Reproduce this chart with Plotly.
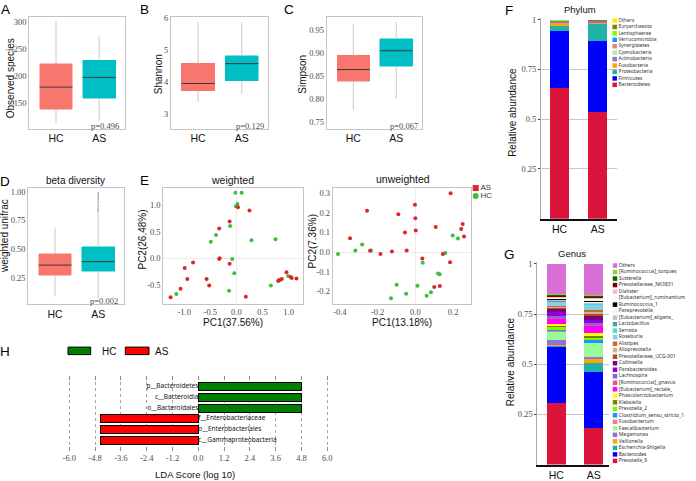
import plotly.graph_objects as go

W, H = 696, 481
SANS = "Liberation Sans"
SERIF = "Liberation Serif"
SMALL = "Noto Sans"
TICK_GRAY = "#4D4D4D"
FRAME = "#C4C4C4"

# ---------------- data ----------------
groups = ["HC", "AS"]
box_colors = ["#F8766D", "#00BFC4"]

# A observed species
obs_lo = [113, 117]
obs_q1 = [138, 158]
obs_med = [179, 197]
obs_q3 = [222, 229]
obs_hi = [302, 272]
# B Shannon
sha_lo = [3.38, 3.63]
sha_q1 = [3.72, 4.03]
sha_med = [3.95, 4.57]
sha_q3 = [4.58, 4.81]
sha_hi = [5.87, 5.87]
# C Simpson
sim_lo = [0.776, 0.800]
sim_q1 = [0.839, 0.871]
sim_med = [0.864, 0.905]
sim_q3 = [0.895, 0.931]
sim_hi = [0.964, 0.968]
# D beta diversity (weighted unifrac)
bd_lo = [0.087, 0.07]
bd_q1 = [0.27, 0.305]
bd_med = [0.36, 0.39]
bd_q3 = [0.457, 0.52]
bd_hi = [0.68, 0.81]
bd_as_outliers = [0.99, 0.975, 0.96, 0.945, 0.93, 0.915, 0.90, 0.885, 0.87, 0.855, 0.84, 0.825]
p_values = ["p=0.496", "p=0.129", "p=0.067", "p=0.002"]

# E weighted PCoA
wt_hc_x = [-0.02, 0.10, 0.02, -0.01, -0.12, -0.39, -0.49, 0.29, 0.75, -0.08, -0.04, -0.14, 0.66, 0.99, -1.15, 0.80]
wt_hc_y = [1.23, 1.23, 1.02, 0.98, 0.61, 0.44, 0.31, 0.34, 0.36, -0.01, -0.28, -0.61, -0.51, -0.33, -0.67, -0.43]
wt_as_x = [0.03, 0.25, -0.13, -0.33, -0.33, -0.32, -0.13, -0.83, -0.99, -0.94, -0.57, -0.52, -1.07, -1.26, 0.18,
           0.96, 0.81, 0.84, 0.87, 1.04, 1.06, 1.15]
wt_as_y = [0.96, 0.90, 0.69, 0.56, -0.01, 0.0, -0.10, -0.08, -0.18, -0.39, -0.39, -0.51, -0.57, -0.73, -0.72,
           -0.26, -0.41, -0.40, -0.39, -0.35, -0.37, -0.38]
# E unweighted PCoA
uw_as_x = [0.187, -0.002, -0.256, -0.09, 0.0, 0.108, 0.251, 0.243, 0.258, -0.055, 0.002, -0.346, -0.240,
           -0.124, -0.046, -0.185, 0.037, 0.146, 0.184, 0.10, 0.13]
uw_as_y = [0.298, 0.239, 0.209, 0.192, 0.171, 0.127, 0.142, 0.117, 0.079, 0.099, 0.109, 0.070, 0.007,
           0.003, 0.008, -0.010, -0.033, -0.010, -0.052, -0.177, -0.172]
uw_hc_x = [-0.41, -0.318, -0.282, -0.235, 0.159, 0.198, 0.226, 0.039, 0.12, 0.129, -0.099, 0.011, -0.049,
           -0.129, 0.060, 0.083]
uw_hc_y = [-0.01, 0.008, 0.038, 0.008, -0.005, 0.084, 0.069, -0.054, -0.109, -0.112, -0.166, -0.171, -0.211,
           -0.234, -0.221, -0.204]
pc_red, pc_green = "#E0242C", "#3CC03C"

# F phylum (stack order bottom -> top)
phylum_names = ["Bacteroidetes", "Firmicutes", "Proteobacteria", "Fusobacteria", "Actinobacteria",
                "Cyanobacteria", "Synergistetes", "Verrucomicrobia", "Lentisphaerae", "Euryarchaeota", "Others"]
phylum_hc = [0.655, 0.290, 0.025, 0.015, 0.007, 0.001, 0.001, 0.001, 0.0005, 0.0005, 0.004]
phylum_as = [0.537, 0.354, 0.088, 0.006, 0.007, 0.001, 0.0005, 0.001, 0.0005, 0.0005, 0.0045]
phylum_colors = ["#DC143C", "#0000FF", "#20B2AA", "#FFA500", "#9370DB", "#98FB98", "#F08080", "#1E90FF",
                 "#7CFC00", "#808000", "#FFEE00"]

# G genus (stack order bottom -> top)
genus_names = ["Prevotella_9", "Bacteroides", "Escherichia-Shigella", "Veillonella", "Megamonas",
               "Faecalibacterium", "Fusobacterium", "Clostridium_sensu_stricto_1", "Prevotella_2", "Klebsiella",
               "Phascolarctobacterium", "[Eubacterium]_rectale_", "[Ruminococcus]_gnavus", "Lachnospira",
               "Parabacteroides", "Collinsella", "Prevotellaceae_UCG-001", "Alloprevotella", "Alistipes",
               "Roseburia", "Serratia", "Lactobacillus", "[Eubacterium]_eligens_", "Paraprevotella",
               "Ruminococcus_1", "[Eubacterium]_ruminantium", "Dialister", "Prevotellaceae_NK3831", "Sutterella",
               "[Ruminococcus]_torques", "Others"]
genus_hc = [0.306, 0.281, 0.004, 0.005, 0.025, 0.040, 0.007, 0.005, 0.014, 0.004, 0.012, 0.022, 0.006, 0.012,
            0.020, 0.012, 0.005, 0.004, 0.008, 0.016, 0.003, 0.003, 0.004, 0.003, 0.005, 0.006, 0.004, 0.005,
            0.006, 0.004, 0.149]
genus_as = [0.184, 0.278, 0.046, 0.018, 0.012, 0.066, 0.004, 0.013, 0.012, 0.009, 0.016, 0.034, 0.006, 0.006,
            0.016, 0.020, 0.012, 0.010, 0.010, 0.024, 0.003, 0.003, 0.003, 0.004, 0.006, 0.010, 0.004, 0.004,
            0.006, 0.006, 0.155]
genus_colors = ["#DC143C", "#0000FF", "#20B2AA", "#FFA500", "#9370DB", "#98FB98", "#F08080", "#1E90FF",
                "#7CFC00", "#808000", "#FFFF00", "#FF00FF", "#E75480", "#7B68EE", "#9400D3", "#800080",
                "#A0522D", "#D2B48C", "#D2691E", "#87CEEB", "#40E0D0", "#5F9EA0", "#C0C0C0", "#F5F5F5",
                "#000000", "#E0FFFF", "#FFB6C1", "#800000", "#006400", "#9ACD32", "#DA70D6"]
abund_ticks = [0.25, 0.5, 0.75, 1.0]
abund_ticktext = ["0.25", "0.5", "0.75", "1"]

# H LEfSe
lda_names = ["p__Bacteroidetes", "c__Bacteroidia", "o__Bacteroidales",
             "f__Enterobacteriaceae", "o__Enterobacteriales", "c__Gammaproteobacteria"]
lda_scores = [4.79, 4.79, 4.79, -4.53, -4.53, -4.53]
lda_group = ["HC", "HC", "HC", "AS", "AS", "AS"]
lda_ticks = [-6.0, -4.8, -3.6, -2.4, -1.2, 0.0, 1.2, 2.4, 3.6, 4.8, 6.0]
lda_colors = {"HC": "#008000", "AS": "#FF0000"}

# ---------------- helpers ----------------
fig = go.Figure()
layout = {}
ann = []
shapes = []


def xdom(a, b):
    return [a / W, b / W]


def ydom(top, bot):
    return [1 - bot / H, 1 - top / H]


def names(n):
    s = "" if n == 1 else str(n)
    return "xaxis" + s, "yaxis" + s, "x" + s, "y" + s


def text(x, y, s, size, family=SANS, color="#111111", angle=0, xanchor="center", yanchor="middle"):
    ann.append(dict(x=x / W, y=1 - y / H, xref="paper", yref="paper", text=s, showarrow=False,
                    font=dict(family=family, size=size, color=color), textangle=angle,
                    xanchor=xanchor, yanchor=yanchor))


serif_tick = dict(family=SERIF, size=8.5, color=TICK_GRAY)


def box_panel(n, xd, yd, yr, tv, tt, lo, q1, med, q3, hi, width=0.76):
    xa, ya, xr, yrf = names(n)
    layout[xa] = dict(domain=xd, anchor=yrf, range=[-0.62, 1.6], tickvals=[0, 1], ticktext=groups,
                      tickfont=dict(family=SANS, size=10.5, color="#111111"), showline=True, mirror=True,
                      linecolor=FRAME, showgrid=False, zeroline=False, ticks="", fixedrange=True)
    layout[ya] = dict(domain=yd, anchor=xr, range=yr, tickvals=tv, ticktext=tt, tickfont=serif_tick,
                      showline=True, mirror=True, linecolor=FRAME, showgrid=False, zeroline=False, ticks="")
    xs = [0, 1]
    wx, wy = [], []
    for i in range(2):
        wx += [xs[i], xs[i], None, xs[i], xs[i], None]
        wy += [q3[i], hi[i], None, lo[i], q1[i], None]
    fig.add_trace(go.Scatter(x=wx, y=wy, mode="lines", line=dict(color="#C8C8C8", width=1),
                             xaxis=xr, yaxis=yrf, hoverinfo="skip"))
    fig.add_trace(go.Bar(x=xs, y=[q3[i] - q1[i] for i in range(2)], base=q1, width=width,
                         marker=dict(color=box_colors, line=dict(color=box_colors, width=0.5)),
                         xaxis=xr, yaxis=yrf, hoverinfo="skip"))
    mx, my = [], []
    for i in range(2):
        mx += [xs[i] - width / 2, xs[i] + width / 2, None]
        my += [med[i], med[i], None]
    fig.add_trace(go.Scatter(x=mx, y=my, mode="lines", line=dict(color="#3A3A3A", width=1),
                             xaxis=xr, yaxis=yrf, hoverinfo="skip"))
    return xr, yrf


def legend_panel(n, x0, x1, y_first, y_last, labels, colors, symbols, marker_px, msize, fsize, fam=SMALL):
    count = len(labels)
    sp = (y_last - y_first) / (count - 1)
    xa, ya, xr, yrf = names(n)
    layout[xa] = dict(domain=xdom(x0, x1), anchor=yrf, range=[0, 1], visible=False, fixedrange=True)
    layout[ya] = dict(domain=ydom(y_first - sp / 2, y_last + sp / 2), anchor=xr,
                      range=[count - 0.5, -0.5], visible=False, fixedrange=True)
    fig.add_trace(go.Scatter(x=[(marker_px - x0) / (x1 - x0)] * count, y=list(range(count)),
                             mode="markers+text", text=labels, textposition="middle right",
                             marker=dict(color=colors, symbol=symbols, size=msize, line=dict(width=0)),
                             textfont=dict(family=fam, size=fsize, color="#333333"),
                             xaxis=xr, yaxis=yrf, cliponaxis=False, hoverinfo="skip"))


# ---------------- A-D box plots ----------------
box_panel(1, xdom(29.3, 125), ydom(13, 126), [102, 309], [150, 200, 250, 300], ["150", "200", "250", "300"],
          obs_lo, obs_q1, obs_med, obs_q3, obs_hi)
box_panel(2, xdom(171, 268), ydom(13, 126), [2.54, 6.03], [3, 4, 5, 6], ["3", "4", "5", "6"],
          sha_lo, sha_q1, sha_med, sha_q3, sha_hi)
box_panel(3, xdom(326.7, 422), ydom(13, 126), [0.735, 0.979], [0.75, 0.8, 0.85, 0.9, 0.95],
          ["0.75", "0.80", "0.85", "0.90", "0.95"], sim_lo, sim_q1, sim_med, sim_q3, sim_hi)
xr4, yr4 = box_panel(4, xdom(28.3, 124), ydom(186, 303.3), [0.02, 1.03], [0.25, 0.5, 0.75, 1.0],
                     ["0.25", "0.50", "0.75", "1.00"], bd_lo, bd_q1, bd_med, bd_q3, bd_hi)
fig.add_trace(go.Scatter(x=[1] * len(bd_as_outliers), y=bd_as_outliers, mode="markers",
                         marker=dict(color="#9A9A9A", size=1.6), xaxis=xr4, yaxis=yr4, hoverinfo="skip"))

# ---------------- E PCoA ----------------
layout["xaxis5"] = dict(domain=xdom(163.3, 302.7), anchor="y5", range=[-1.4, 1.27],
                        tickvals=[-1, -0.5, 0, 0.5, 1], ticktext=["-1.0", "-0.5", "0.0", "0.5", "1.0"],
                        tickfont=serif_tick, showline=True, mirror=True, linecolor=FRAME, showgrid=False,
                        zeroline=True, zerolinecolor="#EBEBEB", zerolinewidth=1, ticks="")
layout["yaxis5"] = dict(domain=ydom(186, 303.3), anchor="x5", range=[-0.86, 1.32],
                        tickvals=[-0.5, 0, 0.5, 1.0], ticktext=["-0.5", "0.0", "0.5", "1.0"],
                        tickfont=serif_tick, showline=True, mirror=True, linecolor=FRAME, showgrid=False,
                        zeroline=True, zerolinecolor="#EBEBEB", zerolinewidth=1, ticks="")
fig.add_trace(go.Scatter(x=wt_hc_x, y=wt_hc_y, mode="markers", marker=dict(color=pc_green, size=4),
                         xaxis="x5", yaxis="y5"))
fig.add_trace(go.Scatter(x=wt_as_x, y=wt_as_y, mode="markers", marker=dict(color=pc_red, size=4),
                         xaxis="x5", yaxis="y5"))

layout["xaxis6"] = dict(domain=xdom(332.7, 471), anchor="y6", range=[-0.438, 0.295],
                        tickvals=[-0.4, -0.2, 0, 0.2], ticktext=["-0.4", "-0.2", "0.0", "0.2"],
                        tickfont=serif_tick, showline=True, mirror=True, linecolor=FRAME, showgrid=False,
                        zeroline=True, zerolinecolor="#EBEBEB", zerolinewidth=1, ticks="")
layout["yaxis6"] = dict(domain=ydom(186, 302.7), anchor="x6", range=[-0.261, 0.324],
                        tickvals=[-0.2, -0.1, 0, 0.1, 0.2, 0.3],
                        ticktext=["-0.2", "-0.1", "0.0", "0.1", "0.2", "0.3"],
                        tickfont=serif_tick, showline=True, mirror=True, linecolor=FRAME, showgrid=False,
                        zeroline=True, zerolinecolor="#EBEBEB", zerolinewidth=1, ticks="")
fig.add_trace(go.Scatter(x=uw_hc_x, y=uw_hc_y, mode="markers", marker=dict(color=pc_green, size=4),
                         xaxis="x6", yaxis="y6"))
fig.add_trace(go.Scatter(x=uw_as_x, y=uw_as_y, mode="markers", marker=dict(color=pc_red, size=4),
                         xaxis="x6", yaxis="y6"))

# ---------------- F / G stacked bars ----------------
def abund_panel(n, xd, xr_, yd):
    xa, ya, xr, yrf = names(n)
    layout[xa] = dict(domain=xd, anchor=yrf, range=xr_, tickvals=[0, 1], ticktext=groups,
                      tickfont=dict(family=SANS, size=10.5, color="#111111"), showline=True,
                      linecolor="#111111", linewidth=2, showgrid=False, zeroline=False, ticks="")
    layout[ya] = dict(domain=yd, anchor=xr, range=[0, 1.0075], tickvals=abund_ticks, ticktext=abund_ticktext,
                      tickfont=serif_tick, showline=True, linecolor="#A8A8A8", linewidth=1, showgrid=False,
                      zeroline=False, ticks="outside", ticklen=2, tickcolor="#444444",
                      minor=dict(tickvals=[0.25, 0.5, 0.75], showgrid=True, gridcolor="#C8C8C8",
                                 gridwidth=1, ticks=""))
    return xr, yrf


xr7, yr7 = abund_panel(7, xdom(541, 616.7), [-0.486, 1.5], ydom(14.2, 217))
for nm, hv, av, col in zip(phylum_names, phylum_hc, phylum_as, phylum_colors):
    fig.add_trace(go.Bar(x=[0, 1], y=[hv, av], width=0.5, name=nm, marker=dict(color=col, line=dict(width=0)),
                         xaxis=xr7, yaxis=yr7))
xr8, yr8 = abund_panel(8, xdom(537.3, 609.3), [-0.503, 1.41], ydom(261.2, 465.4))
for nm, hv, av, col in zip(genus_names, genus_hc, genus_as, genus_colors):
    fig.add_trace(go.Bar(x=[0, 1], y=[hv, av], width=0.505, name=nm, marker=dict(color=col, line=dict(width=0)),
                         xaxis=xr8, yaxis=yr8))

# legends for F / G / E
legend_panel(10, 612, 696, 16.7, 81.7, phylum_names[::-1], phylum_colors[::-1], ["square"] * 11,
             614.7, 4.5, 4.9)
legend_panel(11, 612, 696, 264.3, 461.7, genus_names[::-1], genus_colors[::-1], ["square"] * 31,
             615, 4.5, 5.0)
legend_panel(12, 473, 500, 186, 194, ["AS", "HC"], [pc_red, pc_green], ["square", "circle"],
             475.7, 6, 8, fam=SANS)

# ---------------- H LDA ----------------
layout["xaxis9"] = dict(domain=xdom(62, 335), anchor="y9", range=[-6.34, 6.36], tickvals=lda_ticks,
                        ticktext=["%.1f" % t for t in lda_ticks], tickfont=serif_tick, showgrid=True,
                        gridcolor="#A6A6A6", griddash="dot", gridwidth=1, zeroline=False, showline=False,
                        ticks="inside", ticklen=4, tickcolor="#8C8C8C", mirror="ticks")
layout["yaxis9"] = dict(domain=ydom(376, 452), anchor="x9", range=[6.05, -0.99], visible=False)
for g in ["HC", "AS"]:
    idx = [i for i, gg in enumerate(lda_group) if gg == g]
    fig.add_trace(go.Bar(x=[lda_scores[i] for i in idx], y=idx, orientation="h", width=0.75,
                         marker=dict(color=lda_colors[g], line=dict(color="#000000", width=1)),
                         xaxis="x9", yaxis="y9"))
    fig.add_trace(go.Scatter(x=[0] * len(idx), y=idx, mode="text", text=[lda_names[i] for i in idx],
                             textposition="middle left" if g == "HC" else "middle right",
                             textfont=dict(family=SMALL, size=6.5, color="#111111"),
                             xaxis="x9", yaxis="y9", cliponaxis=False))

shapes.append(dict(type="rect", xref="paper", yref="paper", x0=68 / W, x1=90.7 / W, y0=1 - 354.3 / H,
                   y1=1 - 346.7 / H, fillcolor=lda_colors["HC"], line=dict(color="#000000", width=1)))
shapes.append(dict(type="rect", xref="paper", yref="paper", x0=125.3 / W, x1=149 / W, y0=1 - 354.3 / H,
                   y1=1 - 346.7 / H, fillcolor=lda_colors["AS"], line=dict(color="#000000", width=1)))
text(100, 350.7, "HC", 10, xanchor="left")
text(153, 350.7, "AS", 10, xanchor="left")

# ---------------- annotations ----------------
for s, x, y in [("A", 5.5, 6), ("B", 144, 6), ("C", 289, 6), ("D", 5, 179), ("E", 144.3, 178),
                ("F", 509, 6.5), ("G", 509, 253), ("H", 4.5, 351)]:
    text(x, y, s, 13.5, color="#000000")

text(10, 75, "Observed species", 10, angle=-90)
text(158.5, 71.5, "Shannon", 10, angle=-90)
text(302.5, 71, "Simpson", 10, angle=-90)
text(4.5, 235, "weighted unifrac", 10, angle=-90)
text(75, 178, "beta diversity", 10)
text(121, 123, p_values[0], 8.5, family=SERIF, color=TICK_GRAY, xanchor="right")
text(266, 123, p_values[1], 8.5, family=SERIF, color=TICK_GRAY, xanchor="right")
text(420, 123, p_values[2], 8.5, family=SERIF, color=TICK_GRAY, xanchor="right")
text(119.5, 300, p_values[3], 8.5, family=SERIF, color=TICK_GRAY, xanchor="right")

text(232.5, 177.5, "weighted", 10.5)
text(403, 177, "unweighted", 10.5)
text(143, 238, "PC2(26.48%)", 10, angle=-90)
text(313, 240, "PC2(7.36%)", 10, angle=-90)
text(232.5, 322, "PC1(37.56%)", 10)
text(402, 322, "PC1(13.18%)", 10)

text(580, 5.5, "Phylum", 9.5)
text(572, 252, "Genus", 9.5)
text(513, 110, "Relative abundance", 10, angle=-90)
text(510, 362, "Relative abundance", 10, angle=-90)

text(195, 475, "LDA Score (log 10)", 9.5)

fig.update_layout(width=W, height=H, margin=dict(l=0, r=0, t=0, b=0), paper_bgcolor="white",
                  plot_bgcolor="rgba(0,0,0,0)", showlegend=False, barmode="stack", hovermode=False,
                  annotations=ann, shapes=shapes, **layout)
fig.write_html("out.html", config={"displayModeBar": False, "staticPlot": True},
               post_script="document.body.style.margin='0px';document.body.style.overflow='hidden';")
